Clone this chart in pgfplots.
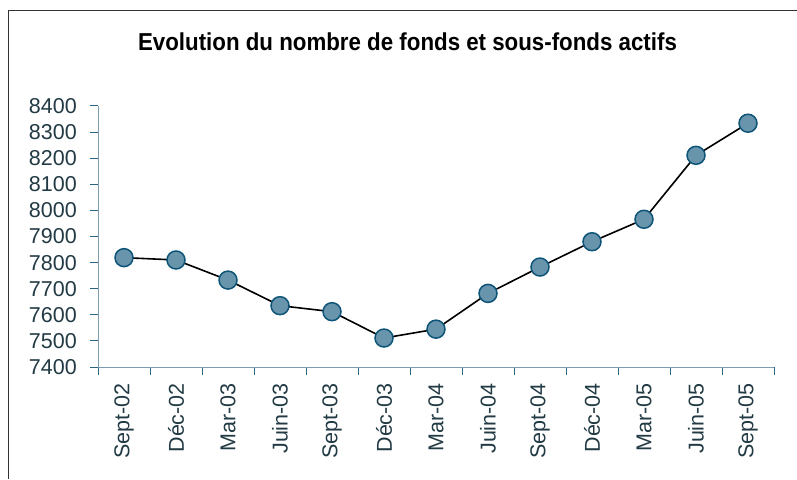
\documentclass[border=0pt]{standalone}
\usepackage{pgfplots}
\pgfplotsset{compat=1.18}
\usepackage{fontspec}
\setmainfont{Liberation Sans}
\newfontfamily\titlefont[FakeStretch=0.91]{Liberation Sans}
\definecolor{axisc}{HTML}{7A9DB0}
\definecolor{tickc}{HTML}{2A6584}
\definecolor{labc}{HTML}{223A44}
\definecolor{markfill}{HTML}{6895AC}
\definecolor{markedge}{HTML}{0E5478}
\begin{document}
\begin{tikzpicture}
\path[use as bounding box] (0pt,0pt) rectangle (797pt,479pt);
\draw[line width=1pt, black!80] (8pt,0pt) -- (8pt,468pt) -- (797pt,468pt);
\node[font=\titlefont\bfseries\fontsize{24.5}{28}\selectfont, anchor=base] at (407.5pt,428pt) {Evolution du nombre de fonds et sous-fonds actifs};
\begin{axis}[
  at={(98pt,112pt)}, anchor=south west,
  scale only axis, width=676pt, height=261pt,
  xmin=-0.5, xmax=12.5, ymin=7400, ymax=8400,
  axis x line=bottom, axis y line=left,
  axis line style={-, color=axisc, line width=1pt},
  xtick={0,...,12},
  xticklabels={Sept-02,Déc-02,Mar-03,Juin-03,Sept-03,Déc-03,Mar-04,Juin-04,Sept-04,Déc-04,Mar-05,Juin-05,Sept-05},
  ytick={7400,7500,...,8400},
  minor xtick={-0.5,0.5,...,12.5},
  minor ytick={7400,7500,...,8400},
  major tick length=0pt, minor tick length=8pt,
  tick align=outside,
  minor tick style={color=tickc, line width=1pt},
  major tick style={draw=none},
  xticklabel shift=16pt, yticklabel shift=21pt,
  xticklabel style={rotate=90, anchor=east, inner sep=0pt, font=\fontsize{21.5}{24}\selectfont, text=labc},
  yticklabel style={anchor=east, inner sep=0pt, font=\fontsize{21.5}{24}\selectfont, text=labc},
  /pgf/number format/1000 sep={},
  /pgf/number format/assume math mode=true,
  clip=false,
]
\addplot[black, line width=1.6pt, mark=*, mark size=9pt,
  mark options={fill=markfill, draw=markedge, line width=1.5pt}]
  coordinates {(0,7819) (1,7810) (2,7733) (3,7635) (4,7612) (5,7511) (6,7545) (7,7682) (8,7783) (9,7880) (10,7966) (11,8211) (12,8334)};
\end{axis}
\end{tikzpicture}
\end{document}
